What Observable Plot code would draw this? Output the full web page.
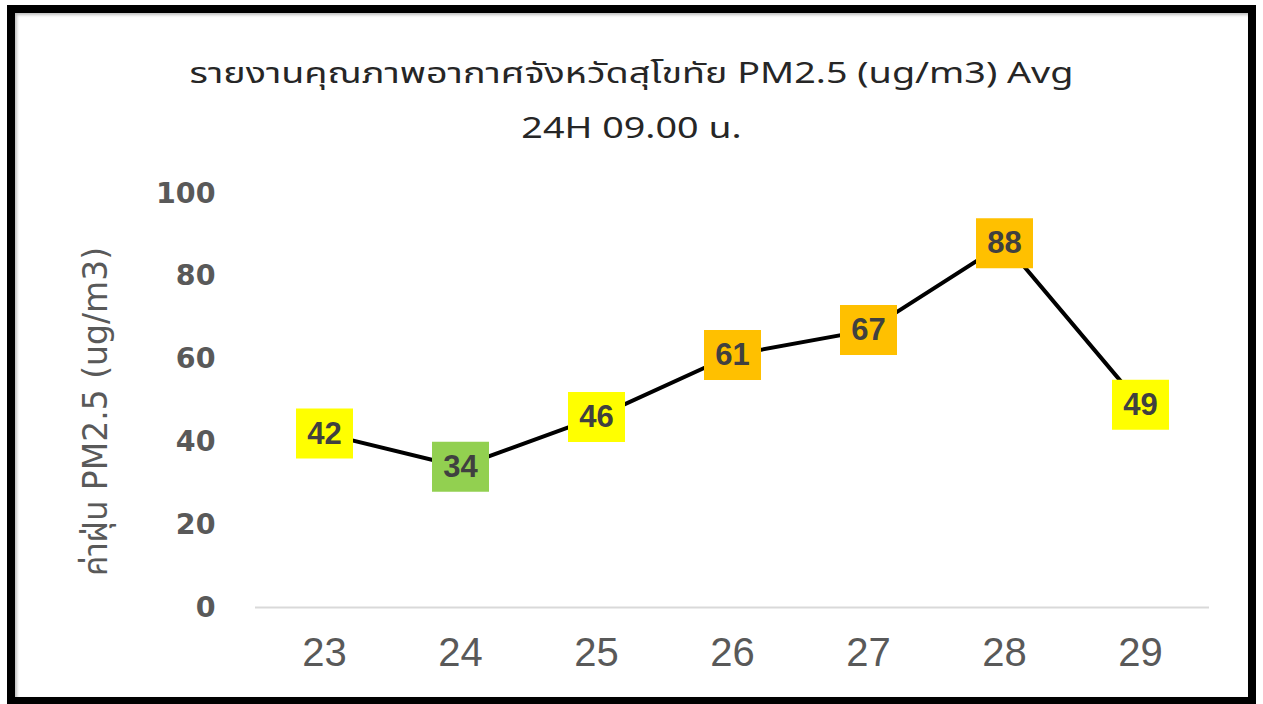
<!DOCTYPE html>
<html><head><meta charset="utf-8">
<script src="https://cdn.jsdelivr.net/npm/d3@7"></script>
<script src="https://cdn.jsdelivr.net/npm/@observablehq/plot@0.6"></script>
<style>
body{margin:0;background:#fff;}
#frame{position:absolute;left:7px;top:5px;width:1233px;height:684px;border:8px solid #000;background:#fff;box-shadow: inset 2px 2px 3px rgba(0,0,0,0.25);}
#title{position:absolute;left:0;top:34px;width:100%;text-align:center;font-family:"Noto Sans Thai","Liberation Sans","DejaVu Sans",sans-serif;font-size:29px;line-height:55px;color:#262626;transform:scaleX(1.3);transform-origin:50% 0;}
#chart{position:absolute;left:0;top:0;}
</style></head>
<body>
<div id="frame">
  <div id="title">รายงานคุณภาพอากาศจังหวัดสุโขทัย PM2.5 (ug/m3) Avg<br>24H 09.00 น.</div>
  <div id="chart"></div>
</div>
<script>
const days = ["23","24","25","26","27","28","29"];
const values = [42,34,46,61,67,88,49];
const boxColors = ["#FFFF00","#92D050","#FFFF00","#FFC000","#FFC000","#FFC000","#FFFF00"];
const yTicks = [0,20,40,60,80,100];
const yLabel = "ค่าฝุ่น PM2.5 (ug/m3)";

const data = days.map((d,i)=>({day:d, value:values[i], color:boxColors[i]}));
const box = {draw(ctx){ ctx.rect(-28.5,-25,57,50); }};
const font = '"Liberation Sans","Noto Sans Thai","DejaVu Sans",sans-serif';

const chart = Plot.plot({
  width:1233, height:684,
  marginLeft:240, marginRight:39, marginTop:180, marginBottom:90,
  style:{fontFamily:font, background:"transparent", overflow:"visible"},
  x:{type:"point", domain:days, padding:0.5},
  y:{domain:[0,100]},
  color:{type:"identity"},
  marks:[
    Plot.ruleY([0],{stroke:"#d9d9d9", strokeWidth:2}),
    Plot.axisY({ticks:yTicks, tickSize:0, tickPadding:40, fontSize:28.5, fontWeight:"bold", fontFamily:"DejaVu Sans", fill:"#595959", label:null}),
    Plot.axisX({tickSize:0, tickPadding:30, fontSize:40, fill:"#595959", label:null}),
    Plot.text([yLabel],{frameAnchor:"left", textAnchor:"middle", rotate:-90, dx:-159, dy:11, fontSize:33, fontFamily:'"DejaVu Sans","Noto Sans Thai",sans-serif', fill:"#595959"}),
    Plot.line(data,{x:"day", y:"value", stroke:"#000", strokeWidth:4}),
    Plot.dot(data,{x:"day", y:"value", symbol:box, r:10, fill:"color", stroke:null}),
    Plot.text(data,{x:"day", y:"value", text:d=>String(d.value), fontSize:31, fontWeight:"bold", fill:"#404040"})
  ]
});
document.getElementById("chart").appendChild(chart);
</script>
</body></html>
